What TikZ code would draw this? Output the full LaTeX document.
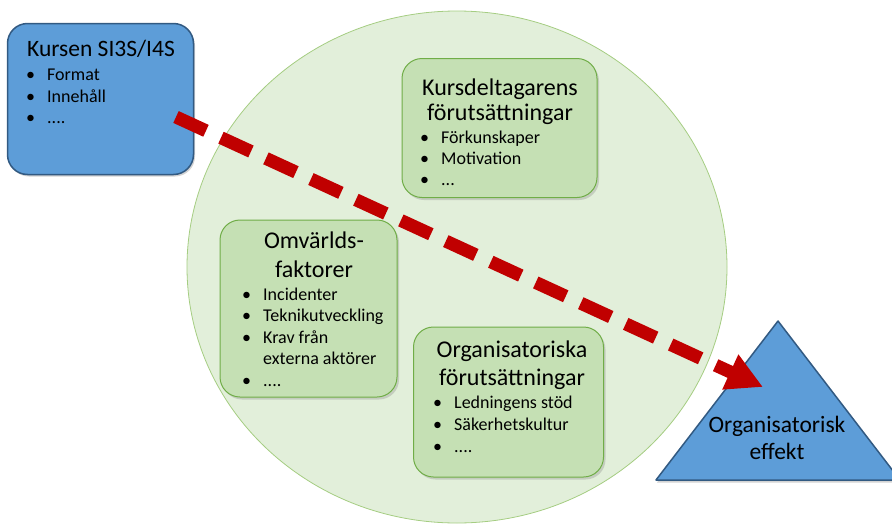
\documentclass[tikz,border=0pt]{standalone}
\usepackage{fontspec}
\setmainfont{Carlito}
\usetikzlibrary{arrows.meta,shapes.geometric,shadows,positioning}
\definecolor{bluefill}{RGB}{93,157,216}
\definecolor{blueedge}{RGB}{50,90,130}
\definecolor{circfill}{RGB}{226,239,218}
\definecolor{circedge}{RGB}{165,205,130}
\definecolor{boxfill}{RGB}{197,224,180}
\definecolor{boxedge}{RGB}{112,173,71}
\definecolor{arrowred}{RGB}{192,0,0}
\newcommand{\blt}{\makebox[21pt][l]{\textbullet}}
\tikzset{
    bluebox/.style={draw=blueedge, fill=bluefill, line width=1.5pt, rounded corners=20pt,
        drop shadow={shadow xshift=1.5pt, shadow yshift=-2pt, opacity=0.35}},
    greenbox/.style={draw=boxedge, fill=boxfill, line width=1pt, rounded corners=20pt,
        drop shadow={shadow xshift=2pt, shadow yshift=-2.5pt, opacity=0.3}},
    effarrow/.style={arrowred, line width=13pt, dash pattern=on 33pt off 16.5pt,
        -{Triangle[length=36pt, width=36pt]}}
}

\begin{document}
\begin{tikzpicture}[
            x=1pt, y=-1pt,
            circ/.style={ellipse, draw=circedge, fill=circfill, line width=0.8pt},
            title/.style={font=\fontsize{24}{28}\selectfont, anchor=base, inner sep=0pt},
            item/.style={font=\fontsize{18}{21}\selectfont, anchor=base west, inner sep=0pt}
        ]
            \useasboundingbox (0,0) rectangle (892,525);

            % Omvarlden
            \node[circ, minimum width=540pt, minimum height=512pt] (ring) at (457,267) {};

            % Kursen
            \node[bluebox, minimum width=186pt, minimum height=151pt] (kurs) at (100.5,99) {};
            \node[title, anchor=base west, font=\fontsize{23.5}{27}\selectfont] (kurs-t) at (27,56) {Kursen SI3S/I4S};
            \node[item] (kurs-1) at (26,80) {\blt Format};
            \node[item] (kurs-2) at (26,102) {\blt Innehåll};
            \node[item] (kurs-3) at (26,123.5) {\blt ....};

            % Kursdeltagarens forutsattningar
            \node[greenbox, minimum width=195pt, minimum height=139pt] (delt) at (499.5,128) {};
            \node[title] (delt-t1) at (500,95) {Kursdeltagarens};
            \node[title] (delt-t2) at (500,120) {förutsättningar};
            \node[item] (delt-1) at (420,143) {\blt Förkunskaper};
            \node[item] (delt-2) at (420,164) {\blt Motivation};
            \node[item] (delt-3) at (420,185.5) {\blt ...};

            % Omvarldsfaktorer
            \node[greenbox, minimum width=177pt, minimum height=177pt] (omv) at (308.5,308.5) {};
            \node[title] (omv-t1) at (314,248) {Omvärlds-};
            \node[title] (omv-t2) at (314,277) {faktorer};
            \node[item] (omv-1) at (242,300) {\blt Incidenter};
            \node[item] (omv-2) at (242,321.5) {\blt Teknikutveckling};
            \node[item] (omv-3) at (242,343) {\blt Krav från};
            \node[item] (omv-3b) at (263,364.5) {externa aktörer};
            \node[item] (omv-4) at (242,386) {\blt ....};

            % Organisatoriska forutsattningar
            \node[greenbox, minimum width=190pt, minimum height=150pt] (org) at (508.5,402) {};
            \node[title] (org-t1) at (512,357) {Organisatoriska};
            \node[title] (org-t2) at (512,385) {förutsättningar};
            \node[item] (org-1) at (433,408) {\blt Ledningens stöd};
            \node[item] (org-2) at (433,430) {\blt Säkerhetskultur};
            \node[item] (org-3) at (433,452) {\blt ....};

            % Organisatorisk effekt
            \filldraw[fill=bluefill, draw=blueedge, line width=1.5pt, line join=round,
                drop shadow={shadow xshift=1pt, shadow yshift=-2.5pt, opacity=0.35}]
                (656,480) -- (778,321) -- (900,480) -- cycle;
            \node[title, font=\fontsize{23.5}{27}\selectfont] (eff-1) at (777,432) {Organisatorisk};
            \node[title, font=\fontsize{23.5}{27}\selectfont] (eff-2) at (777,459) {effekt};

            % Paverkan
            \coordinate (from) at (176,117);
            \coordinate (to) at (763,387);
            \draw[effarrow] (from) -- (to);

        \end{tikzpicture}
\end{document}
